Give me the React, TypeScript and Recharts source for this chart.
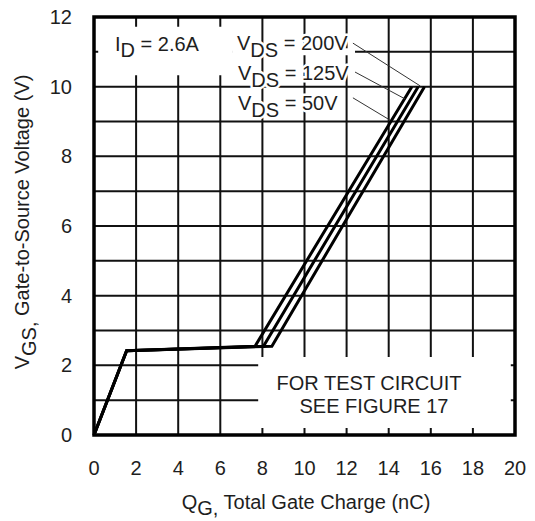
import {
  LineChart,
  Line,
  XAxis,
  YAxis,
  CartesianGrid,
  ReferenceArea,
  ReferenceLine,
} from "recharts";

// gate charge, nC
const qg50V = [0, 1.55, 7.65, 15.1];
const qg125V = [0, 1.55, 8.05, 15.4];
const qg200V = [0, 1.55, 8.45, 15.7];
// gate-to-source voltage, V
const vgsCurve = [0, 2.42, 2.55, 10];

const xTicks = [0, 2, 4, 6, 8, 10, 12, 14, 16, 18, 20];
const yTicks = [0, 1, 2, 3, 4, 5, 6, 7, 8, 9, 10, 11, 12];

const toPoints = (q: number[]) => q.map((x, i) => ({ q: x, v: vgsCurve[i] }));

const FONT = '"Liberation Sans", Arial, Helvetica, sans-serif';
const INK = "#1e1e1e";

const halo = {
  paintOrder: "stroke" as const,
  stroke: "#fff",
  strokeWidth: 5,
  strokeLinejoin: "round" as const,
};

export default function App() {
  return (
    <div style={{ position: "absolute", left: 0, top: 0, width: 535, height: 521, background: "#fff" }}>
      <LineChart
        width={535}
        height={521}
        margin={{ top: 17, right: 20, bottom: 56, left: 34 }}
      >
        <CartesianGrid stroke="#111" strokeWidth={2} horizontal vertical />
        <XAxis
          type="number"
          dataKey="q"
          domain={[0, 20]}
          ticks={xTicks}
          axisLine={false}
          tickLine={false}
          tickMargin={20}
          height={30}
          tick={{ fill: INK, fontSize: 20, fontFamily: FONT }}
        />
        <YAxis
          type="number"
          dataKey="v"
          domain={[0, 12]}
          ticks={yTicks}
          axisLine={false}
          tickLine={false}
          tickMargin={16}
          width={60}
          tickFormatter={(v: number) => (v % 2 === 0 ? String(v) : "")}
          tick={{ fill: INK, fontSize: 20, fontFamily: FONT }}
        />

        {/* label backgrounds */}
        <ReferenceArea x1={0.2} x2={6.6} y1={10.33} y2={11.72} fill="#fff" fillOpacity={1} stroke="none" />
        <ReferenceArea x1={6.6} x2={12.4} y1={10.9} y2={11.1} fill="#fff" fillOpacity={1} stroke="none" />
        <ReferenceArea x1={7.8} x2={19.8} y1={0.2} y2={2.24} fill="#fff" fillOpacity={1} stroke="none" />

        {/* plot frame */}
        <ReferenceArea x1={0} x2={20} y1={0} y2={12} fill="none" stroke="#000" strokeWidth={3.5} />

        <Line data={toPoints(qg50V)} dataKey="v" type="linear" stroke="#000" strokeWidth={3} dot={false} isAnimationActive={false} />
        <Line data={toPoints(qg125V)} dataKey="v" type="linear" stroke="#000" strokeWidth={3} dot={false} isAnimationActive={false} />
        <Line data={toPoints(qg200V)} dataKey="v" type="linear" stroke="#000" strokeWidth={3} dot={false} isAnimationActive={false} />

        {/* leaders from the VDS labels */}
        <ReferenceLine segment={[{ x: 12.3, y: 11.25 }, { x: 15.5, y: 10.02 }]} stroke="#333" strokeWidth={1} />
        <ReferenceLine segment={[{ x: 12.4, y: 10.42 }, { x: 14.77, y: 9.65 }]} stroke="#333" strokeWidth={1} />
        <ReferenceLine segment={[{ x: 12.3, y: 9.68 }, { x: 14.06, y: 9.04 }]} stroke="#333" strokeWidth={1} />
      </LineChart>

      <svg
        width={535}
        height={521}
        style={{ position: "absolute", left: 0, top: 0, pointerEvents: "none" }}
        fontFamily={FONT}
        fontSize={20}
        fill={INK}
      >
        <text x={115} y={51}>
          I<tspan dy={6}>D</tspan>
          <tspan dy={-6}> = 2.6A</tspan>
        </text>

        <text x={237} y={50} style={halo}>
          V<tspan dy={7}>DS</tspan>
          <tspan dy={-7}> = 200V</tspan>
        </text>
        <text x={238} y={80} style={halo}>
          V<tspan dy={7}>DS</tspan>
          <tspan dy={-7}> = 125V</tspan>
        </text>
        <text x={238} y={110} style={halo}>
          V<tspan dy={7}>DS</tspan>
          <tspan dy={-7}> = 50V</tspan>
        </text>

        <text x={369} y={390} textAnchor="middle">FOR TEST CIRCUIT</text>
        <text x={374} y={413} textAnchor="middle">SEE FIGURE 17</text>

        <text x={306} y={509} textAnchor="middle">
          Q<tspan dy={6}>G,</tspan>
          <tspan dy={-6}> Total Gate Charge (nC)</tspan>
        </text>

        <text transform="translate(29,222) rotate(-90)" textAnchor="middle">
          V<tspan dy={7}>GS,</tspan>
          <tspan dy={-7}> Gate-to-Source Voltage (V)</tspan>
        </text>
      </svg>
    </div>
  );
}
